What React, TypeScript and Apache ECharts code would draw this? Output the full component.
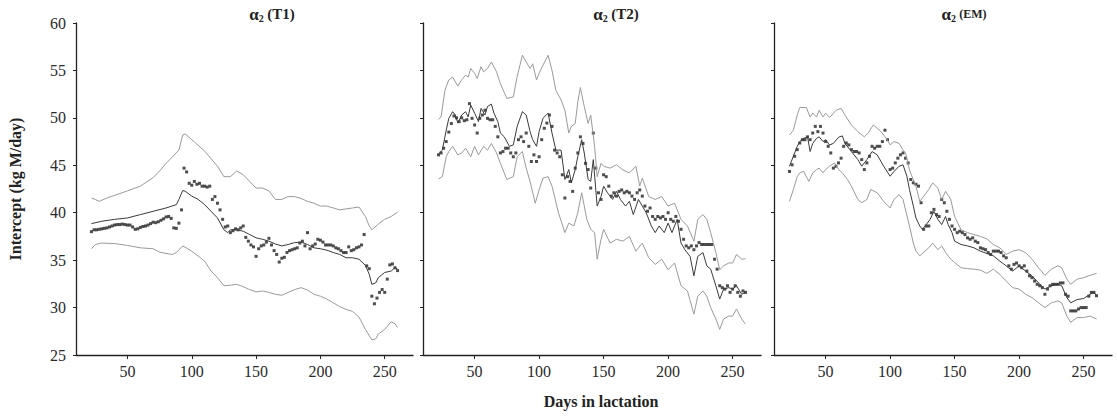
import React, { useEffect, useRef } from "react";
import * as echarts from "echarts";

const FONT = "'Liberation Serif', 'Times New Roman', serif";

const xTicks = [50, 100, 150, 200, 250];
const yMin = 25;
const yMax = 60;
const yStep = 5;
const panelTitles = [
  { main: "(T1)", small: false },
  { main: "(T2)", small: false },
  { main: "(EM)", small: true },
];

// observed-point days (every second day)
const obsDays: number[] = [];
for (let d = 22; d <= 260; d += 2) obsDays.push(d);

// ---------- Panel 1 : alpha2 (T1) ----------
const t1Upper: [number, number][] = [
  [22, 41.55], [25, 41.4], [28, 41.2], [35, 41.6], [50, 42.3], [60, 42.8], [70, 43.7], [75, 44.4], [80, 45.2], [85, 45.9],
  [90, 46.6], [93, 48.2], [95, 48.3], [100, 47.7], [110, 46.5], [120, 44.9], [125, 43.8], [130, 43.8], [135, 44.4], [140, 44.0],
  [145, 43.3], [150, 42.6], [155, 42.6], [160, 42.3], [165, 41.4], [170, 41.4], [175, 41.7], [180, 41.7], [185, 41.5], [190, 41.2],
  [195, 41.0], [200, 40.7], [205, 40.7], [210, 40.5], [215, 40.3], [220, 40.4], [225, 40.5], [230, 40.6], [235, 39.6], [238, 38.6],
  [240, 38.2], [245, 38.8], [250, 39.3], [255, 39.6], [260, 40.05],
];
const t1Lower: [number, number][] = [
  [22, 36.2], [25, 36.65], [30, 36.8], [40, 36.75], [50, 36.55], [60, 36.3], [70, 36.2], [75, 35.85], [80, 35.7], [85, 35.6],
  [88, 35.8], [93, 36.5], [100, 35.95], [110, 34.9], [115, 33.85], [120, 33.15], [125, 32.3], [130, 32.35], [135, 32.45], [140, 32.2],
  [145, 31.9], [150, 31.65], [155, 31.75], [160, 31.6], [165, 31.4], [170, 31.3], [175, 31.6], [180, 31.9], [185, 32.1], [190, 31.85],
  [195, 31.4], [200, 31.2], [205, 30.9], [210, 30.5], [215, 30.1], [220, 29.8], [225, 29.6], [230, 29.0], [235, 27.7], [240, 26.6],
  [243, 26.7], [245, 27.2], [250, 27.7], [255, 28.5], [258, 28.3], [260, 27.9],
];
const t1Fit: [number, number][] = [
  [22, 38.85], [30, 39.1], [40, 39.3], [50, 39.45], [60, 39.8], [70, 40.15], [80, 40.5], [88, 40.85], [90, 41.4], [93, 42.35],
  [95, 42.25], [100, 41.75], [105, 41.4], [110, 40.85], [115, 40.15], [120, 39.45], [125, 38.2], [128, 37.9], [130, 38.2], [135, 38.2],
  [140, 38.05], [145, 37.7], [150, 37.35], [155, 37.2], [160, 37.0], [165, 36.7], [170, 36.5], [175, 36.65], [180, 36.85], [185, 36.9],
  [190, 36.65], [195, 36.3], [200, 36.2], [205, 36.05], [210, 35.8], [215, 35.6], [220, 35.25], [225, 35.25], [230, 35.1], [235, 34.45],
  [238, 33.5], [240, 32.45], [243, 32.6], [245, 33.15], [250, 33.7], [255, 33.85], [258, 34.2], [260, 34.05],
];
const t1Obs = [
  38.0, 38.2, 38.2, 38.25, 38.3, 38.35, 38.4, 38.5, 38.6, 38.7,
  38.75, 38.75, 38.8, 38.75, 38.7, 38.7, 38.5, 38.25, 38.3, 38.45,
  38.55, 38.6, 38.7, 38.85, 39.0, 38.95, 39.05, 39.2, 39.35, 39.55,
  39.6, 39.4, 38.4, 38.35, 38.9, 40.3, 44.7, 44.3, 43.1, 42.9,
  43.3, 43.0, 43.1, 42.8, 42.8, 42.7, 42.8, 41.4, 41.7, 41.0,
  40.3, 39.3, 38.5, 38.6, 37.9, 38.1, 38.3, 38.2, 38.4, 38.6,
  37.4, 37.0, 36.6, 36.4, 35.4, 36.2, 36.5, 36.6, 36.9, 37.3,
  36.6, 36.0, 35.6, 34.8, 35.2, 35.3, 35.8, 36.0, 36.1, 36.2,
  36.3, 36.8, 37.0, 36.5, 37.9, 36.2, 36.5, 36.7, 37.2, 37.1,
  36.9, 36.6, 36.6, 36.6, 36.5, 36.3, 36.2, 36.0, 35.8, 35.8,
  36.4, 36.0, 36.1, 36.3, 36.4, 36.6, 37.7, 34.4, 34.1, 31.2,
  30.4, 31.0, 31.6, 31.9, 31.6, 33.0, 34.5, 34.6, 34.2, 33.9,
];

// ---------- Panel 2 : alpha2 (T2) ----------
const t2Upper: [number, number][] = [
  [22, 49.85], [24, 50.1], [27, 52.9], [30, 54.0], [33, 54.3], [37, 53.35], [40, 54.0], [43, 54.5], [45, 54.3], [47, 55.2],
  [50, 54.7], [52, 54.15], [55, 55.4], [57, 54.85], [60, 55.2], [63, 55.9], [67, 54.85], [70, 53.6], [75, 52.05], [80, 52.2],
  [83, 54.35], [87, 56.6], [90, 55.9], [93, 55.2], [95, 55.7], [98, 54.0], [100, 54.7], [103, 55.55], [107, 56.6], [110, 55.0],
  [113, 52.9], [117, 51.9], [120, 50.8], [123, 48.4], [125, 49.1], [128, 49.4], [130, 51.7], [132, 53.2], [135, 51.2], [138, 49.4],
  [140, 50.3], [143, 47.0], [145, 43.8], [148, 45.2], [150, 44.9], [155, 44.7], [160, 45.05], [165, 44.5], [170, 44.2], [175, 44.9],
  [178, 42.8], [180, 43.65], [185, 41.7], [190, 41.4], [195, 41.7], [200, 40.7], [205, 41.0], [210, 39.3], [215, 38.6], [220, 37.0],
  [223, 39.3], [227, 39.8], [230, 39.3], [233, 37.9], [237, 35.8], [240, 34.0], [243, 34.4], [247, 34.7], [250, 34.7], [253, 35.6],
  [257, 35.1], [260, 35.15],
];
const t2Lower: [number, number][] = [
  [22, 43.55], [25, 43.8], [28, 45.9], [30, 46.45], [33, 47.0], [37, 46.1], [40, 46.3], [43, 46.8], [47, 45.9], [50, 47.0],
  [53, 46.1], [57, 47.0], [60, 46.6], [63, 47.3], [67, 46.3], [70, 45.2], [75, 43.5], [80, 43.8], [83, 45.9], [87, 46.45],
  [90, 44.7], [93, 43.3], [97, 41.0], [100, 42.4], [103, 43.65], [107, 43.8], [110, 42.8], [115, 40.0], [120, 37.9], [123, 38.9],
  [127, 38.6], [130, 40.0], [133, 42.1], [137, 39.3], [140, 38.25], [143, 37.9], [145, 35.1], [148, 37.2], [150, 38.25], [155, 36.8],
  [160, 37.2], [165, 37.0], [170, 37.5], [175, 35.95], [180, 36.8], [185, 35.25], [190, 34.55], [195, 35.1], [200, 34.0], [205, 34.7],
  [210, 32.3], [215, 31.75], [220, 29.3], [223, 31.2], [227, 31.75], [230, 31.2], [233, 30.0], [237, 28.8], [240, 27.7], [243, 28.8],
  [247, 29.1], [250, 29.1], [253, 29.85], [257, 28.8], [260, 28.25],
];
const t2Fit: [number, number][] = [
  [22, 46.2], [25, 46.6], [28, 48.7], [30, 49.95], [33, 50.65], [35, 50.3], [37, 49.45], [40, 50.3], [43, 50.65], [45, 50.1],
  [47, 51.35], [50, 50.5], [53, 49.6], [55, 51.0], [58, 50.3], [60, 51.2], [63, 51.45], [65, 50.5], [68, 49.6], [70, 48.4],
  [73, 48.0], [77, 47.0], [80, 47.15], [83, 49.1], [87, 50.65], [90, 50.3], [93, 48.55], [95, 47.7], [98, 47.0], [100, 48.55],
  [103, 49.95], [107, 50.5], [110, 48.4], [113, 46.6], [117, 46.6], [120, 43.5], [123, 44.55], [125, 43.15], [128, 44.55], [130, 45.9],
  [133, 47.7], [135, 46.3], [138, 43.5], [140, 43.3], [142, 45.6], [145, 40.7], [148, 41.7], [150, 42.8], [153, 42.1], [157, 41.4],
  [160, 42.25], [163, 41.4], [167, 40.7], [170, 41.2], [173, 39.8], [177, 41.4], [180, 40.7], [183, 40.0], [187, 38.6], [190, 37.9],
  [193, 38.6], [197, 37.9], [200, 38.9], [203, 37.9], [207, 39.3], [210, 36.8], [213, 36.1], [217, 35.4], [220, 33.35], [223, 35.4],
  [227, 35.8], [230, 34.4], [233, 34.05], [237, 32.3], [240, 30.9], [243, 31.95], [247, 32.1], [250, 31.95], [253, 32.3], [257, 31.4],
  [260, 31.6],
];
const t2Obs = [
  46.1, 46.3, 46.8, 47.5, 48.5, 49.4, 50.2, 50.0, 49.6, 50.0,
  49.7, 49.8, 51.5, 49.95, 49.25, 48.4, 49.95, 50.3, 50.8, 49.95,
  49.8, 49.8, 49.1, 48.0, 46.3, 46.45, 46.8, 46.8, 46.3, 45.9,
  46.3, 47.7, 48.0, 47.5, 48.4, 47.0, 45.4, 46.1, 45.4, 45.9,
  47.7, 48.9, 49.45, 50.3, 49.1, 46.6, 46.3, 45.9, 44.0, 41.55,
  43.8, 43.3, 42.25, 44.7, 46.3, 48.0, 47.3, 45.2, 44.55, 42.6,
  48.4, 44.7, 42.1, 41.4, 44.0, 43.8, 42.8, 41.75, 42.1, 41.75,
  42.25, 42.4, 42.1, 42.25, 42.1, 41.75, 41.4, 42.1, 42.4, 41.75,
  40.7, 40.15, 40.5, 39.6, 39.3, 39.6, 39.45, 39.6, 39.3, 40.0,
  39.3, 39.1, 39.6, 39.1, 38.25, 37.2, 36.5, 36.3, 36.5, 36.1,
  36.5, 36.85, 36.65, 36.65, 36.65, 36.65, 36.65, 35.1, 34.05, 32.3,
  32.1, 31.95, 32.3, 31.6, 31.95, 32.3, 31.6, 31.2, 31.75, 31.6,
];

// ---------- Panel 3 : alpha2 (EM) ----------
const emUpper: [number, number][] = [
  [22, 48.2], [25, 48.7], [28, 50.3], [30, 51.1], [35, 51.1], [38, 50.1], [40, 50.5], [43, 50.1], [45, 50.8], [48, 50.1],
  [50, 50.5], [53, 50.05], [55, 50.3], [58, 50.8], [62, 51.0], [65, 50.3], [70, 49.25], [75, 48.55], [80, 48.0], [83, 48.4],
  [87, 49.25], [90, 48.9], [93, 48.55], [97, 47.85], [100, 47.15], [103, 47.5], [107, 47.3], [110, 46.6], [112, 46.3], [115, 44.5],
  [120, 42.8], [123, 41.2], [125, 41.55], [130, 42.45], [133, 43.15], [137, 42.6], [140, 41.4], [143, 42.25], [147, 41.4], [150, 39.6],
  [155, 38.2], [160, 37.9], [165, 37.7], [170, 37.5], [175, 37.25], [180, 36.65], [185, 36.3], [190, 35.6], [195, 35.95], [200, 36.1],
  [205, 35.8], [210, 35.1], [215, 34.2], [220, 33.4], [225, 34.05], [230, 34.4], [233, 34.2], [237, 33.0], [240, 32.45], [245, 33.0],
  [250, 33.15], [255, 33.4], [260, 33.6],
];
const emLower: [number, number][] = [
  [22, 41.2], [25, 42.45], [28, 43.8], [30, 44.2], [33, 44.35], [37, 43.3], [40, 44.2], [43, 44.55], [45, 44.7], [48, 44.2],
  [50, 44.55], [53, 44.9], [57, 45.25], [60, 44.55], [63, 44.2], [67, 43.5], [70, 42.8], [75, 41.4], [78, 41.05], [82, 41.4],
  [85, 42.45], [90, 42.1], [95, 41.2], [100, 40.5], [103, 41.4], [107, 41.9], [110, 41.4], [115, 38.6], [118, 36.8], [120, 35.95],
  [123, 35.45], [127, 35.95], [130, 36.3], [133, 36.8], [137, 36.1], [140, 36.5], [143, 35.8], [147, 35.1], [150, 34.75], [155, 34.2],
  [160, 34.1], [165, 34.05], [170, 33.95], [175, 33.6], [180, 34.05], [185, 33.5], [190, 32.8], [195, 32.1], [200, 31.95], [205, 31.4],
  [210, 31.05], [215, 30.5], [220, 30.0], [225, 30.5], [230, 30.7], [233, 30.5], [237, 29.1], [240, 28.45], [245, 28.95], [250, 28.95],
  [255, 29.1], [260, 28.8],
];
const emFit: [number, number][] = [
  [22, 44.9], [25, 45.95], [28, 47.0], [30, 47.5], [33, 47.85], [36, 48.0], [38, 46.45], [40, 47.3], [43, 47.85], [45, 48.0],
  [48, 47.5], [50, 47.7], [53, 47.15], [56, 47.3], [60, 47.95], [63, 48.1], [65, 47.3], [70, 46.45], [75, 45.6], [78, 44.9],
  [82, 45.6], [86, 46.45], [90, 46.1], [95, 44.9], [100, 43.85], [103, 44.35], [107, 44.9], [110, 45.05], [113, 43.85], [115, 42.45],
  [118, 40.7], [120, 39.45], [123, 38.6], [125, 38.25], [128, 38.75], [131, 39.3], [134, 40.15], [137, 39.3], [140, 38.75], [143, 39.6],
  [145, 38.75], [148, 37.9], [150, 37.0], [155, 36.65], [160, 36.5], [165, 36.3], [170, 35.95], [175, 35.7], [180, 35.45], [185, 34.9],
  [190, 34.4], [195, 33.85], [200, 34.4], [205, 33.85], [210, 33.35], [215, 32.6], [220, 31.95], [225, 32.3], [230, 32.45], [233, 32.3],
  [237, 31.05], [240, 30.5], [245, 30.85], [250, 30.95], [255, 31.4], [258, 31.6], [260, 31.25],
];
const emObs = [
  44.35, 45.05, 45.95, 46.65, 47.35, 47.7, 47.7, 48.0, 47.7, 48.4,
  49.1, 48.55, 49.1, 48.4, 47.5, 47.0, 46.3, 44.7, 44.9, 45.25,
  45.75, 47.0, 47.35, 47.15, 46.65, 46.45, 46.45, 46.3, 45.6, 44.55,
  45.25, 45.95, 47.0, 46.8, 47.0, 47.0, 47.5, 48.7, 47.7, 44.55,
  44.7, 45.25, 45.75, 46.1, 46.3, 45.75, 45.25, 43.5, 43.15, 43.0,
  42.8, 41.05, 38.25, 38.6, 38.6, 40.0, 40.35, 39.8, 39.6, 41.4,
  41.05, 40.15, 39.3, 38.6, 38.25, 37.9, 38.05, 37.9, 37.7, 37.35,
  37.2, 37.35, 37.0, 36.85, 36.3, 36.2, 36.1, 35.8, 35.6, 35.95,
  35.95, 35.95, 35.8, 35.45, 35.25, 34.4, 34.05, 34.55, 34.7, 34.4,
  34.2, 34.4, 33.85, 33.35, 33.15, 32.8, 32.45, 32.3, 32.1, 31.4,
  31.95, 32.3, 32.45, 32.45, 32.45, 32.6, 32.6, 31.4, 31.2, 29.65,
  29.65, 29.65, 29.85, 30.0, 30.0, 30.0, 31.2, 31.6, 31.6, 31.25,
];

const panels = [
  { upper: t1Upper, lower: t1Lower, fit: t1Fit, obs: t1Obs },
  { upper: t2Upper, lower: t2Lower, fit: t2Fit, obs: t2Obs },
  { upper: emUpper, lower: emLower, fit: emFit, obs: emObs },
];

const grids = [
  { left: 76, width: 337 },
  { left: 423, width: 338 },
  { left: 774, width: 338 },
];
const titleX = [272, 616, 964];

export default function App() {
  const ref = useRef<HTMLDivElement>(null);
  useEffect(() => {
    if (!ref.current) return;
    const chart = echarts.init(ref.current, undefined, { renderer: "svg" });
    const axisColor = "#222";
    const labelColor = "#2a2a2a";
    const option: any = {
      animation: false,
      backgroundColor: "#fff",
      grid: grids.map((g) => ({ left: g.left, width: g.width, top: 23, height: 332 })),
      xAxis: grids.map((_, i) => ({
        type: "value",
        gridIndex: i,
        min: 10,
        max: 272,
        splitLine: { show: false },
        axisLine: { lineStyle: { color: axisColor, width: 1.3 } },
        axisTick: { show: true, length: 4, customValues: xTicks, lineStyle: { color: axisColor } },
        axisLabel: {
          customValues: xTicks,
          color: labelColor,
          fontFamily: FONT,
          fontSize: 16,
          margin: 8,
        },
      })),
      yAxis: grids.map((_, i) => ({
        type: "value",
        gridIndex: i,
        min: yMin,
        max: yMax,
        interval: yStep,
        splitLine: { show: false },
        axisLine: { show: true, lineStyle: { color: axisColor, width: 1.3 } },
        axisTick: { show: true, length: 3, lineStyle: { color: axisColor } },
        axisLabel: {
          show: i === 0,
          color: labelColor,
          fontFamily: FONT,
          fontSize: 16,
          margin: 10,
        },
      })),
      series: panels.flatMap((p, i) => [
        {
          type: "line",
          xAxisIndex: i,
          yAxisIndex: i,
          data: p.upper,
          showSymbol: false,
          lineStyle: { color: "#9a9a9a", width: 1 },
        },
        {
          type: "line",
          xAxisIndex: i,
          yAxisIndex: i,
          data: p.lower,
          showSymbol: false,
          lineStyle: { color: "#9a9a9a", width: 1 },
        },
        {
          type: "line",
          xAxisIndex: i,
          yAxisIndex: i,
          data: p.fit,
          showSymbol: false,
          lineStyle: { color: "#3a3a3a", width: 1 },
        },
        {
          type: "scatter",
          xAxisIndex: i,
          yAxisIndex: i,
          data: obsDays.map((d, k) => [d, p.obs[k]]),
          symbol: "rect",
          symbolSize: 3,
          itemStyle: { color: "#222" },
        },
      ]),
      graphic: [
        ...panelTitles.map((t, i) => ({
          type: "text",
          x: titleX[i],
          y: 14,
          style: {
            text: `{a|α}{s|2} {${t.small ? "c" : "b"}|${t.main}}`,
            align: "center",
            verticalAlign: "middle",
            rich: {
              a: { fontFamily: FONT, fontWeight: "bold", fontSize: 17, fill: "#222" },
              s: { fontFamily: FONT, fontWeight: "bold", fontSize: 10, fill: "#222", padding: [8, 0, 0, 0] },
              b: { fontFamily: FONT, fontWeight: "bold", fontSize: 15, fill: "#222" },
              c: { fontFamily: FONT, fontWeight: "bold", fontSize: 12, fill: "#222" },
            },
          },
        })),
        {
          type: "text",
          x: 15,
          y: 189,
          rotation: Math.PI / 2,
          style: {
            text: "Intercept (kg M/day)",
            align: "center",
            verticalAlign: "middle",
            font: `bold 16px ${FONT}`,
            fill: "#222",
          },
        },
        {
          type: "text",
          x: 601,
          y: 401,
          style: {
            text: "Days in lactation",
            align: "center",
            verticalAlign: "middle",
            font: `bold 16px ${FONT}`,
            fill: "#222",
          },
        },
      ],
    };
    chart.setOption(option);
    return () => chart.dispose();
  }, []);
  return (
    <div
      ref={ref}
      style={{ position: "fixed", left: 0, top: 0, width: 1117, height: 419, background: "#fff" }}
    />
  );
}
